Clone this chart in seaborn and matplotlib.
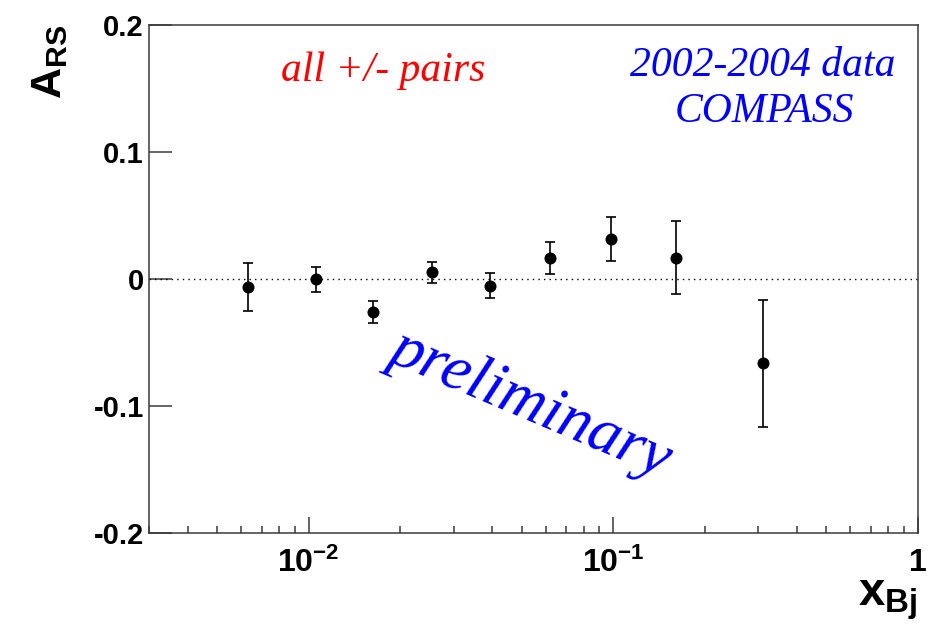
import matplotlib
matplotlib.use("Agg")
import matplotlib.pyplot as plt
import seaborn as sns
import pandas as pd
from matplotlib.ticker import FixedLocator, FixedFormatter, LogLocator, NullFormatter

# Bjorken-x bins and the measured asymmetry with statistical errors
x_bj = [0.0063, 0.01055, 0.0163, 0.0254, 0.0395, 0.0619, 0.0986, 0.161, 0.311]
a_rs = [-0.0065, -0.0005, -0.0262, 0.0050, -0.0055, 0.0165, 0.0313, 0.0165, -0.0666]
a_err = [0.0190, 0.0100, 0.0085, 0.0081, 0.0098, 0.0127, 0.0172, 0.0286, 0.0500]

x_ticks = [0.01, 0.1, 1.0]
x_tick_labels = [r"$\mathbf{10^{-2}}$", r"$\mathbf{10^{-1}}$", r"$\mathbf{1}$"]
y_ticks = [-0.2, -0.1, 0.0, 0.1, 0.2]
y_tick_labels = ["-0.2", "-0.1", "0", "0.1", "0.2"]

sns.set_theme(style="white")
plt.rcParams["font.family"] = ["Liberation Sans", "DejaVu Sans"]
plt.rcParams["text.color"] = "black"
plt.rcParams["axes.labelcolor"] = "black"
plt.rcParams["axes.unicode_minus"] = False
plt.rcParams["mathtext.fontset"] = "custom"
plt.rcParams["mathtext.rm"] = "Liberation Sans:bold"
plt.rcParams["mathtext.bf"] = "Liberation Sans:bold"
plt.rcParams["mathtext.it"] = "Liberation Sans:bold"

df = pd.DataFrame({"x": x_bj, "A": a_rs, "err": a_err})

fig = plt.figure(figsize=(9.33, 6.27), dpi=100)
ax = fig.add_axes([0.1602, 0.1504, 0.8234, 0.8102])

ax.axhline(0.0, color="black", lw=1.0, ls=(0, (1, 3)), zorder=1)
ax.errorbar(df["x"], df["A"], yerr=df["err"], fmt="none", ecolor="black",
            elinewidth=1.2, capsize=3.5, capthick=1.2, zorder=2)
sns.scatterplot(data=df, x="x", y="A", ax=ax, color="black", s=75,
                linewidth=0, zorder=3, legend=False)

ax.set_xscale("log")
ax.set_xlim(0.003, 1.0)
ax.set_ylim(-0.2, 0.2)

ax.xaxis.set_major_locator(FixedLocator(x_ticks))
ax.xaxis.set_major_formatter(FixedFormatter(x_tick_labels))
ax.xaxis.set_minor_locator(LogLocator(base=10, subs=range(2, 10)))
ax.xaxis.set_minor_formatter(NullFormatter())
ax.yaxis.set_major_locator(FixedLocator(y_ticks))
ax.yaxis.set_major_formatter(FixedFormatter(y_tick_labels))

frame = "#3a3a3a"
for sp in ax.spines.values():
    sp.set_color(frame)
    sp.set_linewidth(1.1)

ax.tick_params(which="both", direction="in", bottom=True, left=True,
               top=False, right=False, color=frame, width=1.1,
               labelcolor="black")
ax.tick_params(axis="x", which="major", length=11.5, pad=11, labelsize=23)
ax.tick_params(axis="x", which="minor", length=5)
ax.tick_params(axis="y", which="major", length=16.5, pad=4, labelsize=21)
for lab in ax.get_yticklabels():
    lab.set_fontweight("bold")

ax.set_xlabel(r"$\mathbf{x}_{\mathbf{Bj}}$", fontsize=34, loc="right")
ax.xaxis.set_label_coords(1.0, -0.09)
ax.set_ylabel(r"$\mathbf{A}_{\mathbf{RS}}$", fontsize=31, loc="top")
ax.yaxis.set_label_coords(-0.1035, 1.0)

serif = ["Liberation Serif", "DejaVu Serif"]
ax.text(0.304, 0.91, "all +/- pairs", transform=ax.transAxes, color="red",
        fontsize=30, style="italic", family=serif, ha="center", va="center")
ax.text(0.7985, 0.92, "2002-2004 data", transform=ax.transAxes, color="blue",
        fontsize=30, style="italic", family=serif, ha="center", va="center")
ax.text(0.801, 0.828, "COMPASS", transform=ax.transAxes, color="blue",
        fontsize=30, style="italic", family=serif, ha="center", va="center")
ax.text(0.497, 0.253, "preliminary", transform=ax.transAxes, color="blue",
        fontsize=46, style="italic", family=serif, ha="center", va="center",
        rotation=-23, rotation_mode="anchor")

fig.savefig("out.png", dpi=100, facecolor="white")
